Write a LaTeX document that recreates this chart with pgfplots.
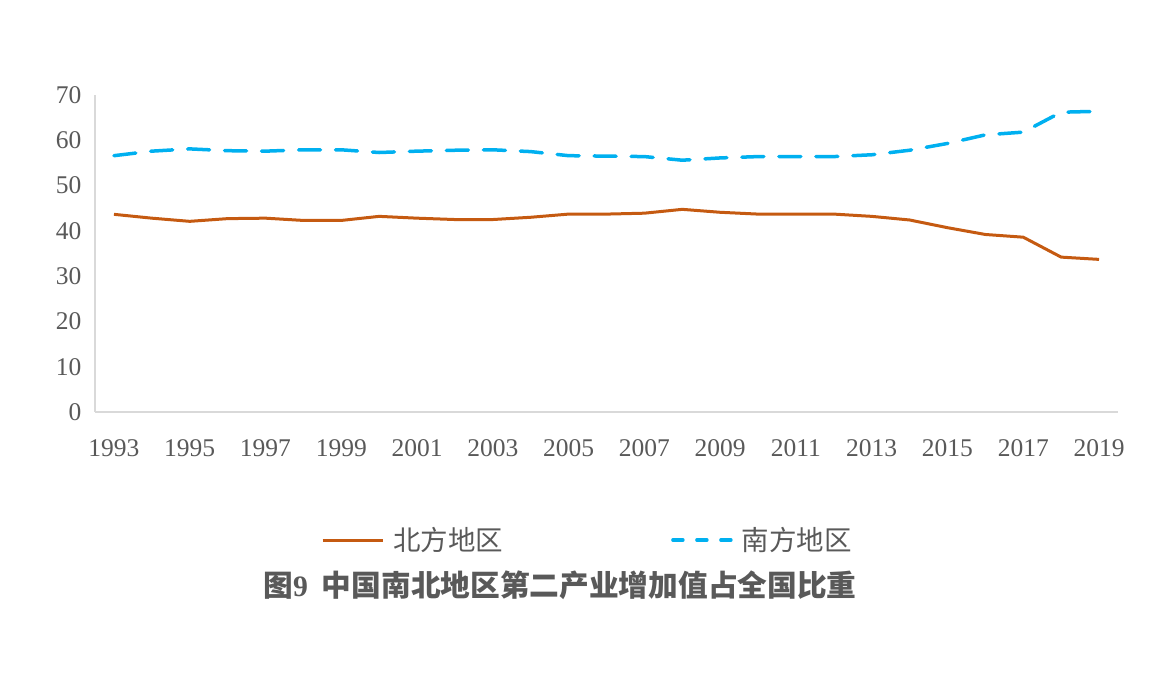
\documentclass[border=0pt]{standalone}
\usepackage{pgfplots}
\pgfplotsset{compat=1.18}
\usepackage{fontspec}
\setmainfont{Liberation Serif}
\newfontfamily\cjk{Noto Sans CJK SC}
\definecolor{northc}{HTML}{C55A11}
\definecolor{southc}{HTML}{00B0F0}
\definecolor{txt}{HTML}{595959}
\definecolor{axc}{HTML}{D9D9D9}
\begin{document}
\begin{tikzpicture}
\useasboundingbox (0,0) rectangle (1172pt,674pt);
\begin{axis}[
  at={(95pt,262pt)}, anchor=south west,
  scale only axis, width=1023pt, height=317pt,
  xmin=1992.5, xmax=2019.5, ymin=0, ymax=70,
  axis x line=bottom, axis y line=left,
  axis line style={-, draw=axc, line width=1.5pt},
  xtick={1993,1995,...,2019}, ytick={0,10,...,70},
  major tick length=0pt,
  /pgf/number format/assume math mode=true,
  /pgf/number format/set thousands separator={},
  tick label style={font=\fontsize{25.5}{29}\selectfont, text=txt},
  yticklabel style={xshift=-10pt},
  xticklabel style={yshift=-24pt},
  legend columns=2,
  legend style={at={(axis description cs:0.2209,-0.404)}, anchor=west, draw=none, fill=none, inner sep=0pt,
    font=\fontsize{27.5}{31}\selectfont\cjk, text=txt,
    /tikz/every even column/.append style={column sep=163pt},
    nodes={inner sep=5pt}},
  legend image code/.code={\draw[#1] (0pt,0pt) -- (60pt,0pt); \path (64pt,0pt);},
]
\addplot[northc, line width=3pt, line join=round] coordinates {
(1993,43.65) (1994,42.8) (1995,42.1) (1996,42.7) (1997,42.8) (1998,42.3) (1999,42.3)
(2000,43.2) (2001,42.8) (2002,42.5) (2003,42.5) (2004,43.0) (2005,43.7) (2006,43.7)
(2007,43.9) (2008,44.75) (2009,44.1) (2010,43.7) (2011,43.7) (2012,43.7) (2013,43.2)
(2014,42.4) (2015,40.7) (2016,39.2) (2017,38.6) (2018,34.2) (2019,33.7)};
\addlegendentry{北方地区}
\addplot[southc, line width=3.5pt, line cap=round, dash pattern=on 22pt off 15pt,
  legend image code/.code={\draw[southc, line width=3.5pt, line cap=round, dash pattern=on 10pt off 14pt] (2pt,0pt) -- (60pt,0pt); \path (64pt,0pt);}] coordinates {
(1993,56.6) (1994,57.6) (1995,58.1) (1996,57.7) (1997,57.6) (1998,57.9) (1999,57.9)
(2000,57.3) (2001,57.6) (2002,57.8) (2003,57.9) (2004,57.5) (2005,56.6) (2006,56.5)
(2007,56.4) (2008,55.6) (2009,56.1) (2010,56.4) (2011,56.4) (2012,56.4) (2013,56.8)
(2014,57.8) (2015,59.3) (2016,61.2) (2017,61.8) (2018,66.2) (2019,66.4)};
\addlegendentry{南方地区}
\end{axis}
\node[text=txt, font=\fontsize{29.7}{33}\selectfont\bfseries] at (560pt,89pt) {{\cjk 图}9\hspace{14pt}{\cjk 中国南北地区第二产业增加值占全国比重}};
\end{tikzpicture}
\end{document}
